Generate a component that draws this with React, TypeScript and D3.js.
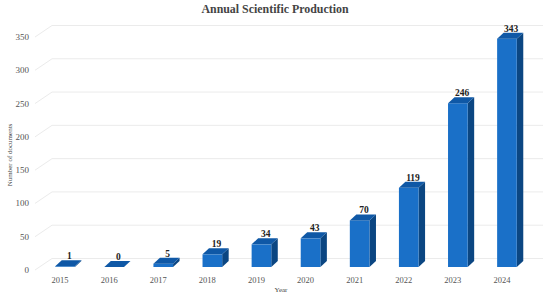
import React from "react";
import { scaleBand, scaleLinear } from "d3";

const years = ["2015", "2016", "2017", "2018", "2019", "2020", "2021", "2022", "2023", "2024"];
const documents = [1, 0, 5, 19, 34, 43, 70, 119, 246, 343];
const yTicks = [0, 50, 100, 150, 200, 250, 300, 350];

const width = 550;
const height = 296;
const floorY = 267;
const depthX = 6.5;
const depthY = 6;
const wallDX = 17;
const wallDY = 8.5;
const font = "'Liberation Serif', 'Times New Roman', serif";

const x = scaleBand<string>().domain(years).range([40.5, 531.5]).paddingInner(0.6).paddingOuter(0.3);
const y = scaleLinear().domain([0, 350]).range([floorY, floorY - 233]);

export default function App() {
  return (
    <svg
      width={width}
      height={height}
      style={{ position: "absolute", left: 0, top: 0, background: "#fff" }}
      fontFamily={font}
    >
      <text x={275} y={13} textAnchor="middle" fontSize={11.9} fontWeight="bold" fill="#444">
        Annual Scientific Production
      </text>

      {yTicks.map((t) => (
        <g key={t}>
          <polyline
            points={`${35},${y(t) + 3} ${35 + wallDX},${y(t) - wallDY} 543,${y(t) - wallDY}`}
            fill="none"
            stroke="#ebebeb"
            strokeWidth={1}
          />
          <text x={29} y={y(t) + 6} textAnchor="end" fontSize={9} fill="#555">
            {t}
          </text>
        </g>
      ))}

      <text
        transform={`translate(12 ${155}) rotate(-90)`}
        textAnchor="middle"
        fontSize={7}
        fill="#444"
      >
        Number of documents
      </text>
      <text x={281} y={292} textAnchor="middle" fontSize={7} fill="#444">
        Year
      </text>

      {years.map((yr, i) => {
        const left = x(yr)!;
        const w = x.bandwidth();
        const top = y(documents[i]);
        const right = left + w;
        return (
          <g key={yr}>
            <polygon
              points={`${right},${floorY} ${right + depthX},${floorY - depthY} ${right + depthX},${top - depthY} ${right},${top}`}
              fill="#0b4682"
            />
            <rect x={left} y={top} width={w} height={floorY - top} fill="#1a70c8" />
            <polygon
              points={`${left},${top} ${left + depthX},${top - depthY} ${right + depthX},${top - depthY} ${right},${top}`}
              fill="#0f58a6"
            />
            <text
              x={left + w / 2 + depthX / 2 + 1}
              y={top - depthY - 1}
              textAnchor="middle"
              fontSize={9.5}
              fontWeight="bold"
              fill="#222"
            >
              {documents[i]}
            </text>
            <text x={left + w / 2 - 5} y={283} textAnchor="middle" fontSize={8.5} fill="#555">
              {yr}
            </text>
          </g>
        );
      })}
    </svg>
  );
}
